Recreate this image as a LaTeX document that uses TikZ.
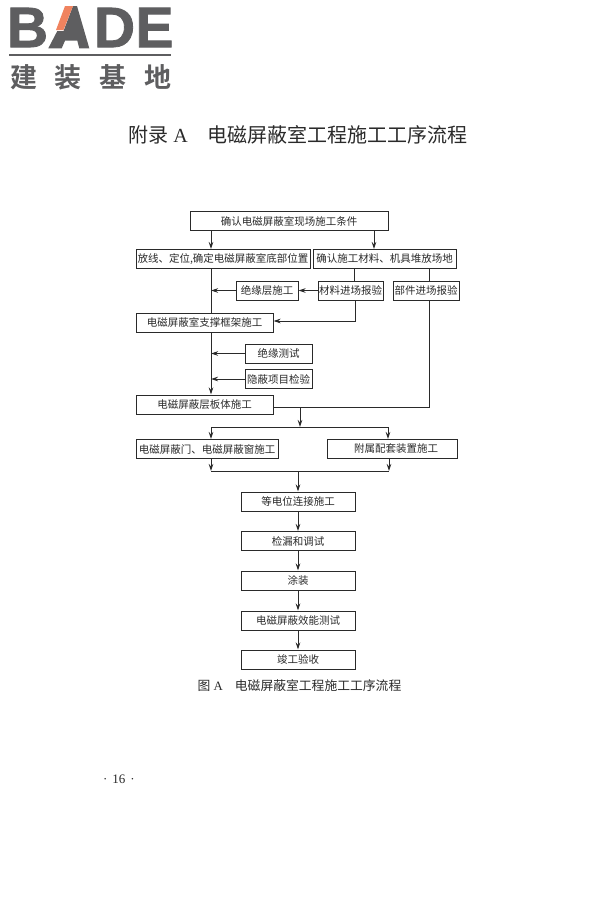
\documentclass[tikz,border=0pt]{standalone}
\usepackage{fontspec}
\setmainfont{Liberation Serif}
\newfontfamily\cjkfont{Noto Sans CJK SC}
\newfontfamily\logocjk{Noto Sans CJK SC Bold}
\newfontfamily\logofont{Liberation Sans Bold}[FakeBold=1.4]
\usetikzlibrary{arrows.meta, positioning}
\definecolor{logogray}{HTML}{5E5E60}
\definecolor{logoorange}{HTML}{F0835F}
\definecolor{inkgray}{HTML}{2A2A2A}

\begin{document}
\begin{tikzpicture}[
	x=1pt, y=-1pt,
	StepNode/.style={draw=inkgray, line width=1pt, minimum width=#1, minimum height=19pt,
		inner sep=0pt, text=inkgray, font=\cjkfont\fontsize{10.5}{12}\selectfont},
	StepNode/.default=114pt,
	Flow/.style={draw=inkgray, line width=0.8pt, -{Stealth[length=7pt, width=4.5pt]}},
	Plain/.style={draw=inkgray, line width=0.8pt},
	LogoText/.style={inner sep=0pt, text=logogray}
	]

\useasboundingbox (0,0) rectangle (600,900);

% logo
\node [LogoText, font=\logofont\fontsize{57}{57}\selectfont] (logob) at (27.5,27.5) {B};
\node [LogoText, font=\logofont\fontsize{57}{57}\selectfont] (logod) at (114.5,27.5) {D};
\node [LogoText, font=\logofont\fontsize{57}{57}\selectfont] (logoe) at (154.5,27.5) {E};
\fill [logogray] (48.3,48.3) -- (57.3,31) -- (63.5,31) -- (73,6) -- (77,6) -- (89.3,48.3) -- (79.3,48.3) -- (77.3,40.7) -- (65,40.7) -- (61.7,48.3) -- cycle;
\fill [logoorange] (56,30) -- (65,6) -- (73,6) -- (63.5,30) -- cycle;
\fill [logogray] (9,54) rectangle (171,56);
\node [LogoText, font=\logocjk\fontsize{27}{27}\selectfont] (logocn) at (91,77) {建\hspace{18pt}装\hspace{18pt}基\hspace{18pt}地};

% title
\node [inner sep=0pt, text=inkgray, font=\fontsize{20}{22}\selectfont] (title) at (298,135)
	{{\cjkfont 附录} A\hspace{20pt}{\cjkfont 电磁屏蔽室工程施工工序流程}};

% boxes
\node [StepNode=198pt] (site) at (289,221) {确认电磁屏蔽室现场施工条件};
\node [StepNode=174pt] (layout) at (223,259) {放线、定位,确定电磁屏蔽室底部位置};
\node [StepNode=143pt] (store) at (384.5,259) {确认施工材料、机具堆放场地};
\node [StepNode=62pt] (insul) at (267,290.5) {绝缘层施工};
\node [StepNode=65pt] (matl) at (350.5,290.5) {材料进场报验};
\node [StepNode=66pt] (part) at (426,290.5) {部件进场报验};
\node [StepNode=137pt] (frame) at (204.5,322.5) {电磁屏蔽室支撑框架施工};
\node [StepNode=67pt] (test) at (278.5,353.5) {绝缘测试};
\node [StepNode=67pt] (check) at (278.5,379) {隐蔽项目检验};
\node [StepNode=137pt] (panel) at (204.5,404.5) {电磁屏蔽层板体施工};
\node [StepNode=142pt] (door) at (207,449) {电磁屏蔽门、电磁屏蔽窗施工};
\node [StepNode=130pt] (aux) at (392,449) {\hspace*{8pt}附属配套装置施工};
\node [StepNode] (bond) at (298,501.5) {等电位连接施工};
\node [StepNode] (leak) at (298,541) {检漏和调试};
\node [StepNode] (coat) at (298,580.5) {涂装};
\node [StepNode] (shield) at (298,620.5) {电磁屏蔽效能测试};
\node [StepNode] (accept) at (298,659.5) {竣工验收};

% junctions
\coordinate (trunkin) at (layout.south -| 211,0);
\coordinate (splitc) at (300,407);
\coordinate (splitb) at (300,427);
\coordinate (splitl) at (211,427);
\coordinate (splitr) at (388,427);
\coordinate (joinl) at (211,471);
\coordinate (joinr) at (389,471);
\coordinate (joinc) at (298,471);

% connectors
\draw [Flow] (site.south -| 211,0) -- (layout.north -| 211,0);
\draw [Flow] (site.south -| 374,0) -- (store.north -| 374,0);
\draw [Plain] (store.south -| 354,0) -- (matl.north -| 354,0);
\draw [Plain] (store.south -| 429,0) -- (part.north -| 429,0);
\draw [Plain] (trunkin) -- (frame.north -| 211,0);
\draw [Flow] (matl) -- (insul);
\draw [Flow] (insul.west) -- (insul.west -| 211,0);
\draw [Flow] (matl.south -| 355,0) |- (frame.east |- 0,321) ;
\draw [Flow] (frame.south -| 211,0) -- (panel.north -| 211,0);
\draw [Flow] (test.west) -- (test.west -| 211,0);
\draw [Flow] (check.west) -- (check.west -| 211,0);
\draw [Plain] (part.south -| 429,0) |- (panel.east |- splitc);
\draw [Flow] (splitc) -- (splitb);
\draw [Plain] (splitl) -- (splitr);
\draw [Flow] (splitl) -- (door.north -| splitl);
\draw [Flow] (splitr) -- (aux.north -| splitr);
\draw [Flow] (door.south -| joinl) -- (joinl);
\draw [Flow] (aux.south -| joinr) -- (joinr);
\draw [Plain] (joinl) -- (joinr);
\draw [Flow] (joinc) -- (bond.north);
\draw [Flow] (bond) -- (leak);
\draw [Flow] (leak) -- (coat);
\draw [Flow] (coat) -- (shield);
\draw [Flow] (shield) -- (accept);

% caption and page number
\node [inner sep=0pt, text=inkgray, font=\fontsize{12.8}{14}\selectfont] (caption) at (299.5,686)
	{{\cjkfont 图} A\hspace{12pt}{\cjkfont 电磁屏蔽室工程施工工序流程}};
\node [inner sep=0pt, text=inkgray, font=\fontsize{13}{15}\selectfont] (pageno) at (119,779) {·\hspace{5pt}16\hspace{5pt}·};

\end{tikzpicture}
\end{document}
